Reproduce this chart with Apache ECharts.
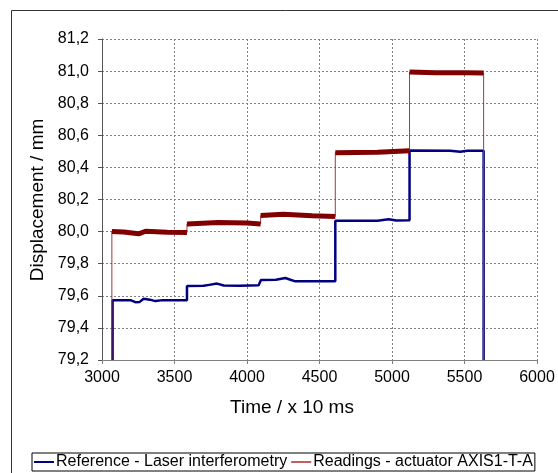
<!DOCTYPE html>
<html>
<head>
<meta charset="utf-8">
<script src="https://cdn.jsdelivr.net/npm/echarts@6/dist/echarts.min.js"></script>
<style>
html,body{margin:0;padding:0;background:#fff;}
#c{width:558px;height:473px;}
</style>
</head>
<body>
<div id="c"></div>
<script>
// X axis ticks (time / x 10 ms)
var xTicks = [3000, 3500, 4000, 4500, 5000, 5500, 6000];
// Y axis ticks (mm)
var yTicks = [79.2, 79.4, 79.6, 79.8, 80.0, 80.2, 80.4, 80.6, 80.8, 81.0, 81.2];

// Reference - Laser interferometry
var refTime  = [3073, 3073, 3200, 3230, 3260, 3287, 3330, 3368, 3420, 3586, 3586, 3700, 3740, 3793, 3840, 3950, 4080, 4096, 4200, 4264, 4300, 4333, 4609, 4609, 4900, 4977, 5030, 5121, 5121, 5400, 5471, 5520, 5632, 5632];
var refValue = [79.20, 79.572, 79.572, 79.560, 79.562, 79.582, 79.576, 79.567, 79.573, 79.573, 79.661, 79.662, 79.668, 79.676, 79.664, 79.662, 79.665, 79.699, 79.700, 79.711, 79.700, 79.690, 79.690, 80.068, 80.068, 80.077, 80.069, 80.070, 80.505, 80.504, 80.497, 80.504, 80.504, 79.20];

// Readings - actuator AXIS1-T-A
var readTime  = [3068, 3068, 3150, 3253, 3300, 3450, 3586, 3586, 3800, 4000, 4094, 4094, 4250, 4450, 4609, 4609, 4900, 5121, 5121, 5300, 5500, 5632, 5632];
var readValue = [79.20, 80.0, 79.998, 79.986, 80.002, 79.996, 79.994, 80.048, 80.056, 80.054, 80.048, 80.10, 80.108, 80.098, 80.094, 80.492, 80.495, 80.503, 80.995, 80.99, 80.99, 80.988, 79.20];

var seriesNames = ['Reference - Laser interferometry', 'Readings - actuator AXIS1-T-A'];

function pairs(t, v) { return t.map(function (x, i) { return [x, v[i]]; }); }
// plateau-only copy of readings (break at vertical jumps)
function plateaus(t, v) {
  var out = [];
  for (var i = 0; i < t.length; i++) {
    if (i > 0 && t[i] === t[i - 1]) out.push([t[i], null]);
    out.push([t[i], v[i]]);
  }
  return out;
}

var FONT = "'Liberation Sans', Arial, sans-serif";
var chart = echarts.init(document.getElementById('c'), null, {renderer: 'canvas'});
chart.setOption({
  animation: false,
  backgroundColor: '#ffffff',
  grid: {left: 102, top: 39, right: 21, bottom: 113, containLabel: false},
  xAxis: {
    type: 'value',
    min: xTicks[0], max: xTicks[xTicks.length - 1], interval: xTicks[1] - xTicks[0],
    axisLine: {show: true, onZero: false, lineStyle: {color: '#808080', width: 1}},
    axisTick: {show: true, inside: false, length: 4, lineStyle: {color: '#808080'}},
    axisLabel: {color: '#000', fontSize: 16, fontFamily: FONT, margin: 10,
      formatter: function (v) { return String(Math.round(v)); }},
    splitLine: {show: true, lineStyle: {color: '#808080', type: [2, 2], width: 1}}
  },
  yAxis: {
    type: 'value',
    min: yTicks[0], max: yTicks[yTicks.length - 1], interval: 0.2,
    axisLine: {show: true, onZero: false, lineStyle: {color: '#555555', width: 1}},
    axisTick: {show: true, inside: false, length: 4, lineStyle: {color: '#555555'}},
    axisLabel: {color: '#000', fontSize: 16, fontFamily: FONT, margin: 13,
      formatter: function (v) { return v.toFixed(1).replace('.', ','); }},
    splitLine: {show: true, lineStyle: {color: '#808080', type: [2, 2], width: 1}}
  },
  legend: {
    show: true,
    left: 32, top: 453,
    orient: 'horizontal',
    borderColor: '#000', borderWidth: 1, borderRadius: 0,
    padding: [1, 2, 1, 2],
    itemGap: 4, itemWidth: 20, itemHeight: 2,
    textStyle: {color: '#000', fontSize: 16, fontFamily: FONT, padding: [0, 0, 0, -3]},
    data: [
      {name: seriesNames[0], icon: 'rect', itemStyle: {color: '#000080'}},
      {name: seriesNames[1], icon: 'rect', itemStyle: {color: '#c06060'}}
    ]
  },
  graphic: [
    {type: 'rect', shape: {x: 11.5, y: 10.5, width: 600, height: 500}, style: {fill: 'none', stroke: '#333333', lineWidth: 1}, silent: true, z: 0},
    {type: 'text', x: 38, y: 200, rotation: Math.PI / 2,
      style: {text: 'Displacement / mm', font: '19px ' + FONT, fill: '#000', align: 'center', verticalAlign: 'middle'}},
    {type: 'text', x: 292, y: 408,
      style: {text: 'Time / x 10 ms', font: '19px ' + FONT, fill: '#000', align: 'center', verticalAlign: 'middle'}}
  ],
  series: [
    {
      name: seriesNames[0], type: 'line', data: pairs(refTime, refValue),
      symbol: 'none', showSymbol: false, z: 3,
      lineStyle: {color: '#000080', width: 2.5}, itemStyle: {color: '#000080'}
    },
    {
      name: seriesNames[1], type: 'line', data: pairs(readTime, readValue),
      symbol: 'none', showSymbol: false, z: 4,
      lineStyle: {color: '#a03c3c', width: 1}, itemStyle: {color: '#a03c3c'}
    },
    {
      name: seriesNames[1] + ' band', type: 'line', data: plateaus(readTime, readValue),
      symbol: 'none', showSymbol: false, connectNulls: false, z: 5,
      lineStyle: {color: '#800000', width: 5, cap: 'butt'}, itemStyle: {color: '#800000'}
    }
  ]
});
</script>
</body>
</html>
